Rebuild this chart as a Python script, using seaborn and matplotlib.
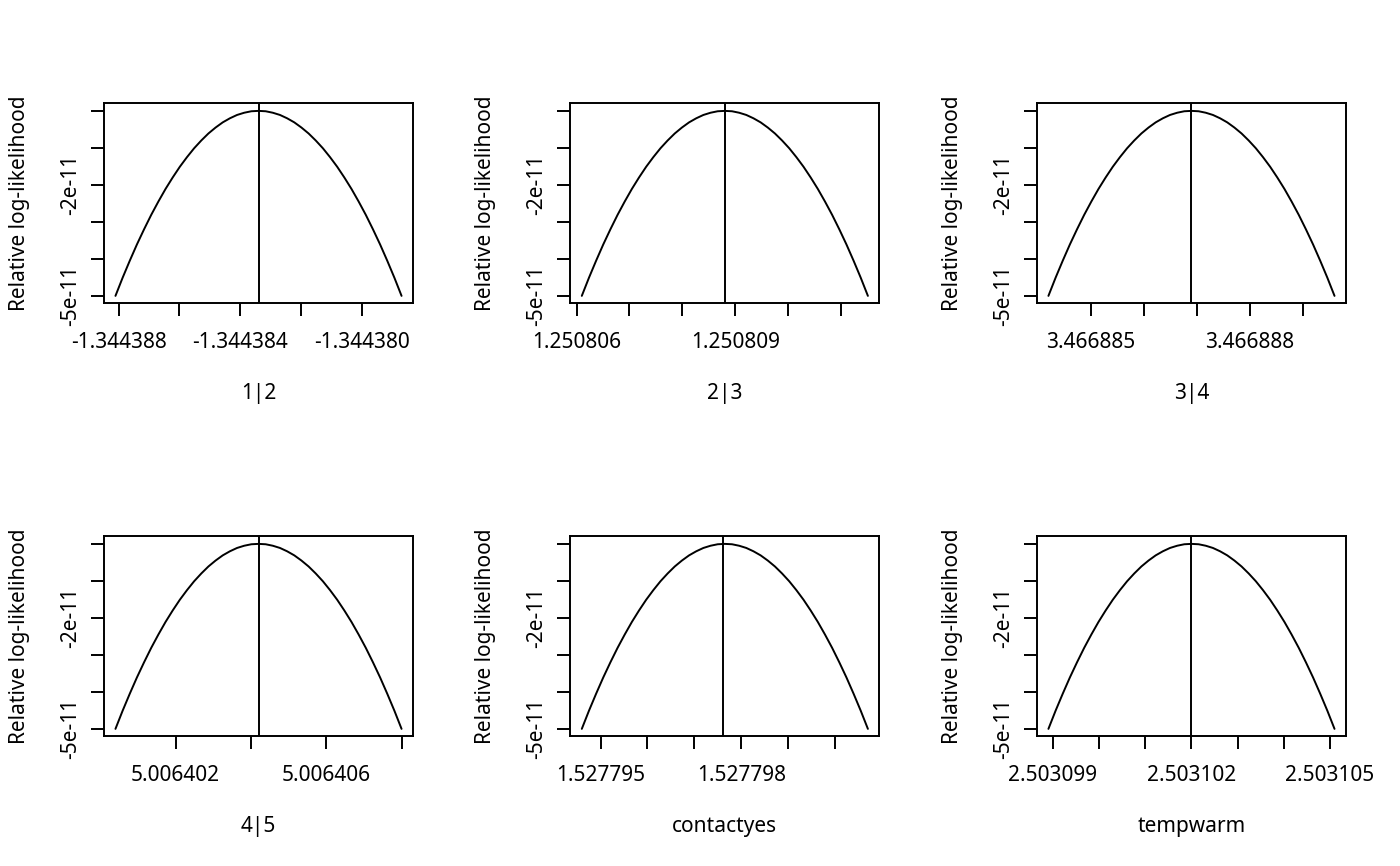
import numpy as np
import matplotlib
matplotlib.use("Agg")
import matplotlib.pyplot as plt
import seaborn as sns

# profile likelihood panels
params = ["1|2", "2|3", "3|4", "4|5", "contactyes", "tempwarm"]
x_lo = [-1.3443881, 1.2508061, 3.4668842, 5.0064004, 1.5277946, 2.5030989]
x_hi = [-1.3443787, 1.2508115, 3.4668896, 5.0064080, 1.5278007, 2.5031051]
mle = [-1.3443834, 1.2508088, 3.4668869, 5.0064042, 1.5277976, 2.5031020]

# relative log-likelihood at evenly spaced points across each profile (units of 1e-11)
rel_ll = [-5.0, -4.51, -4.05, -3.61, -3.2, -2.81, -2.45, -2.11, -1.8, -1.51, -1.25,
          -1.01, -0.8, -0.61, -0.45, -0.31, -0.2, -0.11, -0.05, -0.01, 0.0,
          -0.01, -0.05, -0.11, -0.2, -0.31, -0.45, -0.61, -0.8, -1.01, -1.25,
          -1.51, -1.8, -2.11, -2.45, -2.81, -3.2, -3.61, -4.05, -4.51, -5.0]

x_ticks = [
    [-1.344388, -1.344386, -1.344384, -1.344382, -1.344380],
    [1.250806, 1.250807, 1.250808, 1.250809, 1.250810, 1.250811],
    [3.466885, 3.466886, 3.466887, 3.466888, 3.466889],
    [5.006402, 5.006404, 5.006406, 5.006408],
    [1.527795, 1.527796, 1.527797, 1.527798, 1.527799, 1.527800],
    [2.503099, 2.503100, 2.503101, 2.503102, 2.503103, 2.503104, 2.503105],
]
x_ticklabels = [
    ["-1.344388", "", "-1.344384", "", "-1.344380"],
    ["1.250806", "", "", "1.250809", "", ""],
    ["3.466885", "", "", "3.466888", ""],
    ["5.006402", "", "5.006406", ""],
    ["1.527795", "", "", "1.527798", "", ""],
    ["2.503099", "", "", "2.503102", "", "", "2.503105"],
]
y_ticks = [0, -1e-11, -2e-11, -3e-11, -4e-11, -5e-11]
y_ticklabels = ["", "", "-2e-11", "", "", "-5e-11"]

sns.set_style("ticks")
plt.rcParams['font.family'] = ['Noto Sans', 'DejaVu Sans']
plt.rcParams['text.color'] = 'black'
plt.rcParams['axes.labelcolor'] = 'black'

fig = plt.figure(figsize=(14, 8.66), dpi=100)
lefts = [0.0743, 0.4074, 0.7407]
bottoms = [0.6498, 0.1498]
w, h = 0.2207, 0.2307

for i, name in enumerate(params):
    ax = fig.add_axes([lefts[i % 3], bottoms[i // 3], w, h])
    xs = np.linspace(x_lo[i], x_hi[i], len(rel_ll))
    ys = np.array(rel_ll) * 1e-11
    sns.lineplot(x=xs, y=ys, ax=ax, color="black", linewidth=1.4)
    ax.axvline(mle[i], color="black", linewidth=1.4)
    span = x_hi[i] - x_lo[i]
    ax.set_xlim(x_lo[i] - 0.04 * span, x_hi[i] + 0.04 * span)
    ax.set_ylim(-5.2e-11, 0.2e-11)
    ax.set_xticks(x_ticks[i])
    ax.set_xticklabels(x_ticklabels[i])
    ax.set_yticks(y_ticks)
    ax.set_yticklabels(y_ticklabels, rotation=90, va="center")
    for s in ax.spines.values():
        s.set_visible(True)
        s.set_linewidth(1.4)
        s.set_color("black")
    ax.tick_params(axis="both", direction="out", length=9.5, width=1.4,
                   labelsize=15, colors="black")
    ax.tick_params(axis="x", pad=11)
    ax.tick_params(axis="y", pad=7)
    ax.set_xlabel(name, fontsize=15, labelpad=22)
    ax.set_ylabel("Relative log-likelihood", fontsize=15, labelpad=22)

fig.savefig("out.png", dpi=100, facecolor="white")
